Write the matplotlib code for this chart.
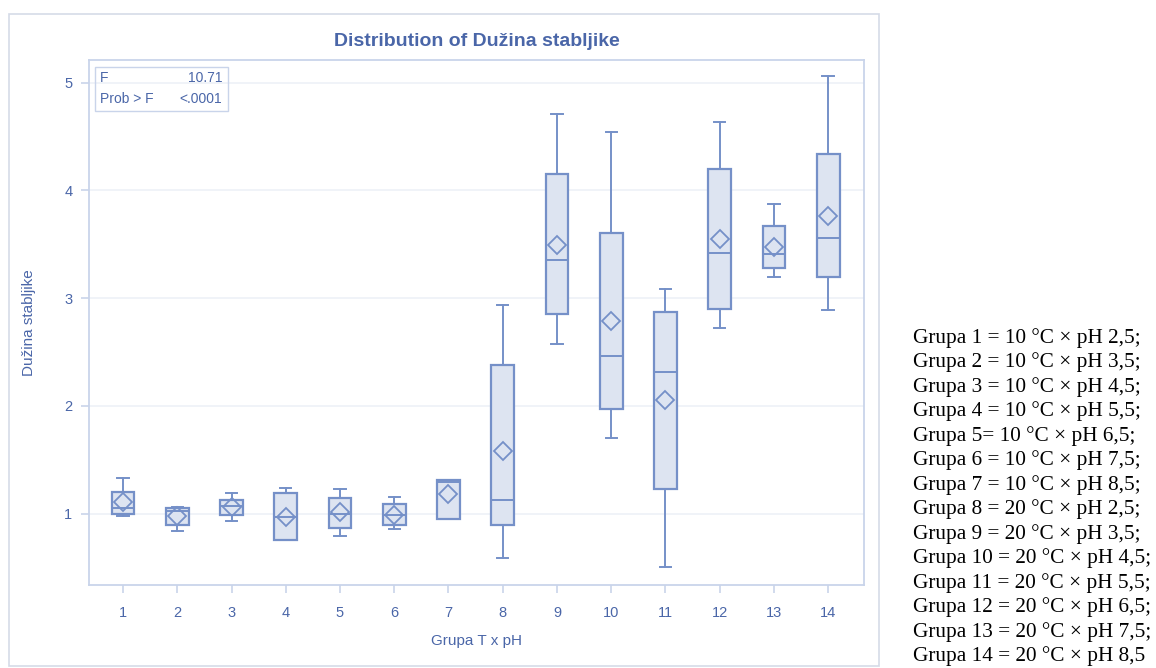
import matplotlib.pyplot as plt
from matplotlib.patches import Rectangle

# group labels and five-number summaries
groups = list(range(1, 15))
whisker_lo = [0.98, 0.84, 0.93, 0.75, 0.79, 0.86, 0.95, 0.59, 2.57, 1.70, 0.50, 2.72, 3.20, 2.89]
q1 = [1.00, 0.89, 0.99, 0.75, 0.87, 0.89, 0.95, 0.89, 2.85, 1.97, 1.23, 2.90, 3.28, 3.20]
median = [1.05, 1.02, 1.07, 0.97, 1.00, 0.99, 1.29, 1.13, 3.35, 2.46, 2.31, 3.42, 3.41, 3.56]
q3 = [1.20, 1.05, 1.13, 1.19, 1.14, 1.09, 1.31, 2.38, 4.15, 3.60, 2.87, 4.20, 3.67, 4.34]
whisker_hi = [1.33, 1.06, 1.19, 1.24, 1.23, 1.15, 1.31, 2.94, 4.71, 4.54, 3.08, 4.63, 3.87, 5.06]
mean = [1.11, 0.98, 1.06, 0.97, 1.01, 0.99, 1.18, 1.58, 3.49, 2.79, 2.05, 3.55, 3.47, 3.76]

legend_lines = [
    "Grupa 1 = 10 °C × pH 2,5;",
    "Grupa 2 = 10 °C × pH 3,5;",
    "Grupa 3 = 10 °C × pH 4,5;",
    "Grupa 4 = 10 °C × pH 5,5;",
    "Grupa 5= 10 °C × pH 6,5;",
    "Grupa 6 = 10 °C × pH 7,5;",
    "Grupa 7 = 10 °C × pH 8,5;",
    "Grupa 8 = 20 °C × pH 2,5;",
    "Grupa 9 = 20 °C × pH 3,5;",
    "Grupa 10 = 20 °C × pH 4,5;",
    "Grupa 11 = 20 °C × pH 5,5;",
    "Grupa 12 = 20 °C × pH 6,5;",
    "Grupa 13 = 20 °C × pH 7,5;",
    "Grupa 14 = 20 °C × pH 8,5",
]

txt_col = "#4a66a8"
edge_col = "#7590c8"
fill_col = "#dde4f1"
frame_col = "#c9d4ea"

plt.rcParams['font.family'] = ['Liberation Sans', 'DejaVu Sans']

fig = plt.figure(figsize=(11.56, 6.68), dpi=100)
fig.patches.append(Rectangle((0.0078, 0.003), 0.7526, 0.976, transform=fig.transFigure,
                             fill=False, edgecolor="#d5dbe8", linewidth=1.2))

ax = fig.add_axes([0.077, 0.1243, 0.6704, 0.7859])

stats = []
for i in range(len(groups)):
    stats.append(dict(med=median[i], q1=q1[i], q3=q3[i],
                      whislo=whisker_lo[i], whishi=whisker_hi[i], mean=mean[i], fliers=[]))

ax.bxp(stats, positions=groups, widths=0.42, patch_artist=True, showmeans=True,
       boxprops=dict(facecolor=fill_col, edgecolor=edge_col, linewidth=1.6),
       medianprops=dict(color=edge_col, linewidth=1.4),
       whiskerprops=dict(color=edge_col, linewidth=1.4),
       capprops=dict(color=edge_col, linewidth=1.4),
       capwidths=0.21,
       meanprops=dict(marker='D', markerfacecolor='none', markeredgecolor=edge_col,
                      markersize=9.5, markeredgewidth=1.3),
       zorder=3)

ax.set_xlim(0.373, 14.66)
ax.set_ylim(0.337, 5.21)
ax.set_xticks(groups)
ax.set_xticklabels([str(g) for g in groups])
ax.set_yticks([1, 2, 3, 4, 5])
ax.yaxis.grid(True, color="#eef1f7", linewidth=1.2, zorder=0)
ax.set_axisbelow(True)
for s in ax.spines.values():
    s.set_color(frame_col)
    s.set_linewidth(1.3)
ax.tick_params(colors=frame_col, labelcolor=txt_col, labelsize=10.5, length=6, width=1.2)
ax.tick_params(axis='x', pad=9)
ax.tick_params(axis='y', pad=6)

ax.set_xlabel("Grupa T x pH", color=txt_col, fontsize=11, labelpad=10)
ax.set_ylabel("Dužina stabljike", color=txt_col, fontsize=11, labelpad=20)
ax.set_title("Distribution of Dužina stabljike", color=txt_col, fontsize=14,
             fontweight='bold', pad=10)

# F statistic inset
ax.add_patch(Rectangle((0.008, 0.903), 0.171, 0.084, transform=ax.transAxes,
                       fill=False, edgecolor=frame_col, linewidth=1.0, zorder=4))
ax.text(0.014, 0.965, "F", transform=ax.transAxes, color=txt_col, fontsize=10, va='center')
ax.text(0.172, 0.965, "10.71", transform=ax.transAxes, color=txt_col, fontsize=10,
        va='center', ha='right')
ax.text(0.014, 0.925, "Prob > F", transform=ax.transAxes, color=txt_col, fontsize=10, va='center')
ax.text(0.172, 0.925, "<.0001", transform=ax.transAxes, color=txt_col, fontsize=10,
        va='center', ha='right')

# group legend on the right
y0 = 1 - 338 / 668
step = 24.5 / 668
for k, line in enumerate(legend_lines):
    fig.text(913 / 1156, y0 - k * step, line, family=['Liberation Serif', 'DejaVu Serif'],
             fontsize=15.3, color='black', va='center', ha='left')

fig.savefig("out.png", dpi=100)
